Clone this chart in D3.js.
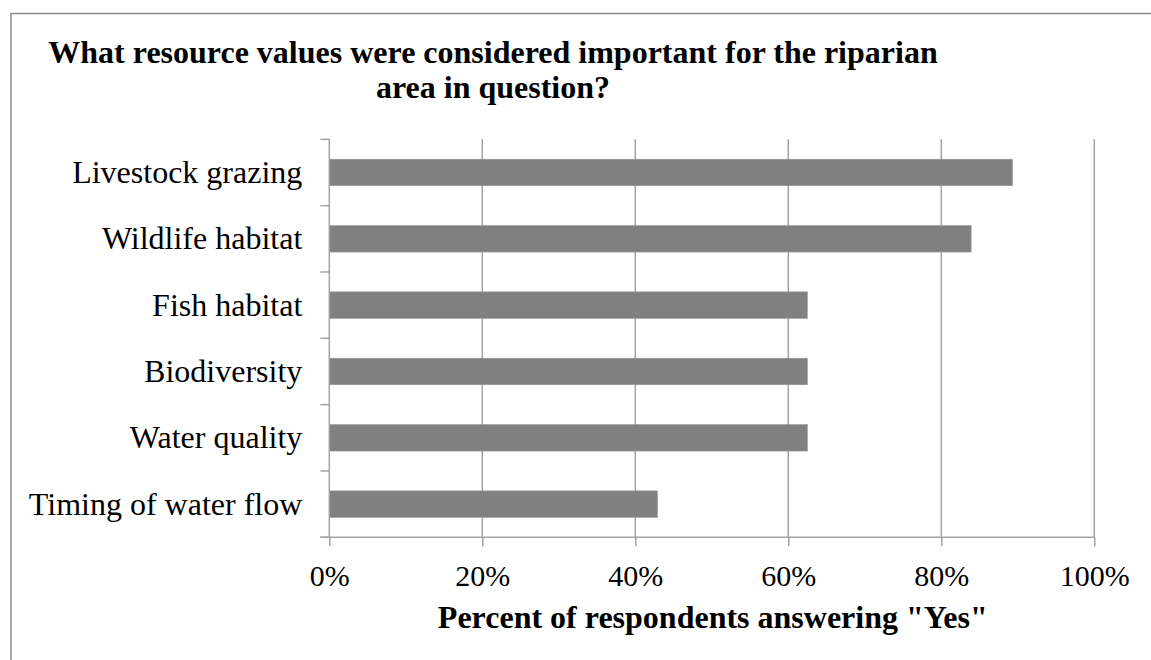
<!DOCTYPE html>
<html>
<head>
<meta charset="utf-8">
<script src="https://cdn.jsdelivr.net/npm/d3@7"></script>
<style>
  html, body { margin: 0; padding: 0; background: #fff; }
  svg { display: block; }
  text { font-family: "Liberation Serif", "Times New Roman", serif; fill: #000; }
</style>
</head>
<body>
<svg id="chart" width="1151" height="660"></svg>
<script>
// Survey results: share of respondents who named each resource value
const categories = [
  "Livestock grazing",
  "Wildlife habitat",
  "Fish habitat",
  "Biodiversity",
  "Water quality",
  "Timing of water flow"
];
const percentYes = [89.3, 83.9, 62.5, 62.5, 62.5, 42.9];
const xTicks = [0, 20, 40, 60, 80, 100];
const titleLines = [
  "What resource values were considered important for the riparian",
  "area in question?"
];
const xAxisTitle = "Percent of respondents answering \"Yes\"";

const svg = d3.select("#chart");
const plot = { left: 329.3, right: 1094.3, top: 139.3, bottom: 537.3 };
const gridColor = "#a3a3a3";
const barColor = "#808080";

// outer chart frame (runs off the right and bottom of the page)
svg.append("rect")
  .attr("x", 11).attr("y", 13.5)
  .attr("width", 1200).attr("height", 700)
  .attr("fill", "none")
  .attr("stroke", "#8c8c8c")
  .attr("stroke-width", 1.5);

const x = d3.scaleLinear().domain([0, 100]).range([plot.left, plot.right]);
const y = d3.scaleBand()
  .domain(categories)
  .range([plot.top, plot.bottom])
  .paddingInner(0.6)
  .paddingOuter(0.3);

// vertical gridlines
svg.append("g")
  .selectAll("line")
  .data(xTicks.slice(1))
  .join("line")
  .attr("x1", d => x(d)).attr("x2", d => x(d))
  .attr("y1", plot.top).attr("y2", plot.bottom)
  .attr("stroke", gridColor)
  .attr("stroke-width", 1.5);

// bars
svg.append("g")
  .selectAll("rect")
  .data(categories.map((c, i) => ({ c, v: percentYes[i] })))
  .join("rect")
  .attr("x", x(0))
  .attr("y", d => y(d.c))
  .attr("width", d => x(d.v) - x(0))
  .attr("height", y.bandwidth())
  .attr("fill", barColor)
  .attr("stroke", "#9a9a9a")
  .attr("stroke-width", 0.6);

// x axis
const xAxis = d3.axisBottom(x)
  .tickValues(xTicks)
  .tickFormat(d => d + "%")
  .tickSize(9)
  .tickSizeOuter(0)
  .tickPadding(18);
const gx = svg.append("g")
  .attr("transform", `translate(0,${plot.bottom})`)
  .call(xAxis);
gx.select(".domain").remove();
gx.selectAll(".tick line").attr("stroke", gridColor).attr("stroke-width", 1.5);
gx.selectAll(".tick text")
  .attr("font-size", 30)
  .attr("font-family", "Liberation Serif, serif")
  .attr("fill", "#000");
svg.append("line")
  .attr("x1", plot.left - 9).attr("x2", plot.right)
  .attr("y1", plot.bottom).attr("y2", plot.bottom)
  .attr("stroke", gridColor).attr("stroke-width", 1.5);

// y axis: line with ticks at category boundaries
svg.append("line")
  .attr("x1", plot.left).attr("x2", plot.left)
  .attr("y1", plot.top).attr("y2", plot.bottom)
  .attr("stroke", gridColor).attr("stroke-width", 1.5);
const step = y.step();
const boundaries = d3.range(categories.length + 1).map(i => plot.top + i * step);
svg.append("g")
  .selectAll("line")
  .data(boundaries)
  .join("line")
  .attr("x1", plot.left - 9).attr("x2", plot.left)
  .attr("y1", d => d).attr("y2", d => d)
  .attr("stroke", gridColor).attr("stroke-width", 1.5);

// category labels
svg.append("g")
  .selectAll("text")
  .data(categories)
  .join("text")
  .attr("x", plot.left - 27)
  .attr("y", d => y(d) + y.bandwidth() / 2)
  .attr("dy", "0.33em")
  .attr("text-anchor", "end")
  .attr("font-size", 32)
  .text(d => d);

// chart title
svg.append("g")
  .selectAll("text")
  .data(titleLines)
  .join("text")
  .attr("x", 493)
  .attr("y", (d, i) => 63 + i * 35)
  .attr("text-anchor", "middle")
  .attr("font-size", 32)
  .attr("font-weight", "bold")
  .text(d => d);

// x axis title
svg.append("text")
  .attr("x", (plot.left + plot.right) / 2 + 1)
  .attr("y", 628)
  .attr("text-anchor", "middle")
  .attr("font-size", 32)
  .attr("font-weight", "bold")
  .text(xAxisTitle);
</script>
</body>
</html>
